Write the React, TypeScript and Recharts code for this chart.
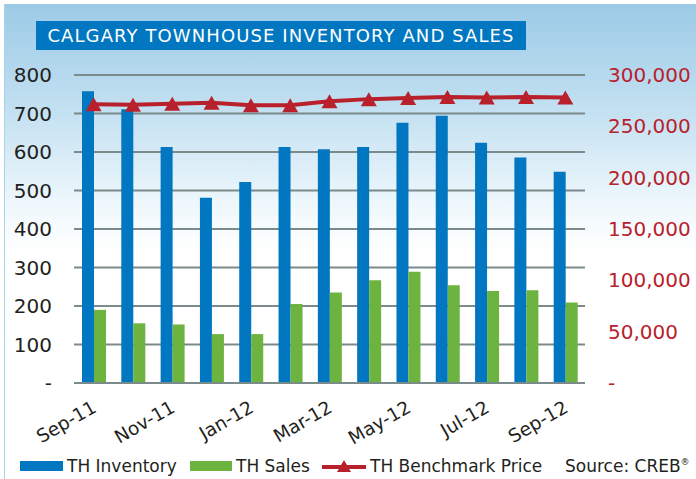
import { ComposedChart, Bar, Line, XAxis, YAxis, CartesianGrid } from "recharts";

const months = ["Sep-11", "Oct-11", "Nov-11", "Dec-11", "Jan-12", "Feb-12", "Mar-12", "Apr-12", "May-12", "Jun-12", "Jul-12", "Aug-12", "Sep-12"];
const inventory = [758, 711, 613, 481, 522, 613, 607, 613, 676, 694, 624, 586, 549];
const sales = [190, 155, 152, 127, 127, 205, 235, 267, 289, 254, 239, 241, 209];
const price = [271500, 271000, 272000, 273000, 270500, 270500, 274500, 276500, 277500, 278500, 278000, 278500, 278000];
const leftTicks = [0, 100, 200, 300, 400, 500, 600, 700, 800];
const rightTicks = [0, 50000, 100000, 150000, 200000, 250000, 300000];

const data = months.map((m, i) => ({ month: m, inventory: inventory[i], sales: sales[i], price: price[i] }));

const BLUE = "#0077c0";
const GREEN = "#6db33f";
const RED = "#b8212c";
const FONT = "DejaVu Sans, sans-serif";

const Triangle = (props: any) => {
  const { cx, cy } = props;
  if (cx == null || cy == null) return null;
  return <path d={`M${cx},${cy - 7} L${cx + 8},${cy + 7} L${cx - 8},${cy + 7} Z`} fill={RED} />;
};

const MonthTick = (props: any) => {
  const { x, y, payload } = props;
  return (
    <text
      x={x + 4}
      y={y + 20}
      transform={`rotate(-30, ${x + 4}, ${y + 20})`}
      textAnchor="end"
      fontSize={18.5}
      fontFamily={FONT}
      fill="#231f20"
    >
      {payload.value}
    </text>
  );
};

export default function App() {
  return (
    <div style={{ position: "absolute", left: 0, top: 0, width: 696, height: 479, background: "#fff", fontFamily: FONT }}>
      <div
        style={{
          position: "absolute", left: 4, top: 4, right: 0, bottom: 0,
          borderLeft: "1px solid #a9d3eb",
          background: "linear-gradient(to bottom, #9ccae6 0%, #c2e0f1 22%, #eef7fc 42%, #ffffff 52%, #ffffff 100%)",
        }}
      />
      <div
        style={{
          position: "absolute", left: 36, top: 21, width: 490, height: 29, background: BLUE, color: "#fff",
          fontSize: 18, lineHeight: "29px", textAlign: "center", letterSpacing: 1.1, whiteSpace: "nowrap",
        }}
      >
        CALGARY TOWNHOUSE INVENTORY AND SALES
      </div>
      <div style={{ position: "absolute", left: 0, top: 0 }}>
        <ComposedChart width={696} height={479} data={data} margin={{ top: 75, right: 0, left: 0, bottom: 0 }} barGap={0}>
          <CartesianGrid vertical={false} stroke="#7b8a8a" strokeWidth={2} yAxisId="left" />
          <XAxis
            dataKey="month"
            interval={1}
            height={96}
            tick={<MonthTick />}
            tickLine={false}
            axisLine={{ stroke: "#7b8a8a", strokeWidth: 2 }}
          />
          <YAxis
            yAxisId="left"
            domain={[0, 800]}
            ticks={leftTicks}
            width={74}
            tickLine={false}
            axisLine={false}
            tickMargin={16}
            tickFormatter={(v: number) => (v === 0 ? "-" : String(v))}
            tick={{ fontSize: 20, fill: "#231f20", fontFamily: FONT }}
          />
          <YAxis
            yAxisId="right"
            orientation="right"
            domain={[0, 300000]}
            ticks={rightTicks}
            width={111}
            tickLine={false}
            axisLine={false}
            tickMargin={17}
            tickFormatter={(v: number) => (v === 0 ? "-" : v.toLocaleString("en-US"))}
            tick={{ fontSize: 20, fill: RED, fontFamily: FONT }}
          />
          <Bar yAxisId="left" dataKey="inventory" fill={BLUE} barSize={12} isAnimationActive={false} />
          <Bar yAxisId="left" dataKey="sales" fill={GREEN} barSize={12} isAnimationActive={false} />
          <Line
            yAxisId="right"
            dataKey="price"
            stroke={RED}
            strokeWidth={4}
            dot={<Triangle />}
            activeDot={false}
            isAnimationActive={false}
          />
        </ComposedChart>
      </div>
      <div style={{ position: "absolute", left: 20, top: 456, fontSize: 17, color: "#231f20", whiteSpace: "nowrap" }}>
        <span style={{ position: "absolute", left: 0, top: 5, width: 43, height: 10, background: BLUE }} />
        <span style={{ position: "absolute", left: 47, top: 0 }}>TH Inventory</span>
        <span style={{ position: "absolute", left: 170, top: 5, width: 42, height: 10, background: GREEN }} />
        <span style={{ position: "absolute", left: 216, top: 0 }}>TH Sales</span>
        <svg style={{ position: "absolute", left: 302, top: 2 }} width={44} height={16}>
          <line x1={0} y1={9} x2={44} y2={9} stroke={RED} strokeWidth={4} />
          <path d="M22,2 L29,14 L15,14 Z" fill={RED} />
        </svg>
        <span style={{ position: "absolute", left: 350, top: 0 }}>TH Benchmark Price</span>
        <span style={{ position: "absolute", left: 545, top: 0 }}>
          Source: CREB<sup style={{ fontSize: 9 }}>®</sup>
        </span>
      </div>
    </div>
  );
}
